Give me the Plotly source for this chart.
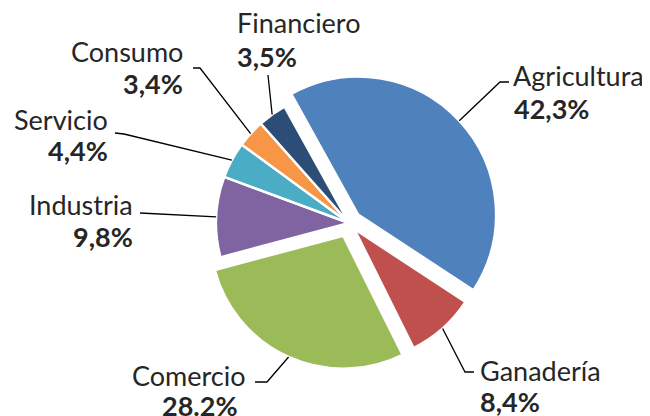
import math
import plotly.graph_objects as go

# ---- data ----
labels = ["Agricultura", "Ganadería", "Comercio", "Industria", "Servicio", "Consumo", "Financiero"]
values = [42.3, 8.4, 28.2, 9.8, 4.4, 3.4, 3.5]
pct_text = ["42,3%", "8,4%", "28.2%", "9,8%", "4,4%", "3,4%", "3,5%"]
colors = ["#4F81BD", "#C0504D", "#9BBB59", "#8064A2", "#4BACC6", "#F79646", "#2C4D75"]

# ---- styling / layout (viewport pixels) ----
W, H = 650, 416
OFF = 8                  # default page body margin
CX, CY = 349, 223        # pie centre
ROT = -29                # start angle of first slice (deg, clockwise from 12 o'clock)
# slice radius and explode fraction (the big slice is drawn slightly larger)
slice_radius = {"Agricultura": 138}
slice_pull = {"Agricultura": 0.09, "Ganadería": 0.06, "Comercio": 0.105}
R_MAIN = 133
BIG = "Agricultura"
FONT = "Lato"
FS = 27
TXT = "#262626"
CLEAR = "rgba(0,0,0,0)"

def px(x):
    return (x - OFF) / W

def py(y):
    return 1 - (y - OFF) / H

def pie_trace(show, radius):
    pulls = [slice_pull.get(l, 0) if show(l) else 0 for l in labels]
    half = radius * (1 + max(pulls))
    return go.Pie(
        labels=labels, values=values, sort=False, direction="clockwise",
        rotation=ROT, pull=pulls, textinfo="none", hoverinfo="label+percent",
        marker=dict(colors=[c if show(l) else CLEAR for l, c in zip(labels, colors)],
                    line=dict(color="white", width=[2.5 if show(l) else 0 for l in labels])),
        domain=dict(x=[px(CX - half), px(CX + half)], y=[py(CY + half), py(CY - half)]),
        showlegend=False,
    )

fig = go.Figure()
fig.add_trace(pie_trace(lambda l: l != BIG, R_MAIN))
fig.add_trace(pie_trace(lambda l: l == BIG, slice_radius[BIG]))

# label placement and leader elbow/end points
label_pos = {
    "Agricultura": dict(nx=511, ny=76, tx=512, ty=108, anchor="left", path=[(500, 82), (509, 82)]),
    "Ganadería": dict(nx=478, ny=370, tx=478, ty=401, anchor="left", path=[(465, 372), (474, 372)]),
    "Comercio": dict(nx=248, ny=375, tx=240, ty=405, anchor="right", path=[(267, 382), (255, 382)]),
    "Industria": dict(nx=135, ny=204, tx=135, ty=236, anchor="right", path=[(140, 213)]),
    "Servicio": dict(nx=110, ny=119, tx=110, ty=150, anchor="right", path=[(124, 134), (115, 133)]),
    "Consumo": dict(nx=185, ny=52, tx=185, ty=83, anchor="right", path=[(200, 68), (193, 68)]),
    "Financiero": dict(nx=235, ny=23, tx=235, ty=56, anchor="left", path=[(268, 75)]),
}

total = sum(values)
ang = ROT
annotations = []
shapes = []
for lab, v, pt in zip(labels, values, pct_text):
    span = 360 * v / total
    mid = math.radians(ang + span / 2)
    ang += span
    rr = slice_radius.get(lab, R_MAIN) * (1 + slice_pull.get(lab, 0))
    sx = CX + rr * math.sin(mid)
    sy = CY - rr * math.cos(mid)
    lp = label_pos[lab]
    pts = [(sx, sy)] + lp["path"]
    d = "M " + " L ".join(f"{px(x):.5f},{py(y):.5f}" for x, y in pts)
    shapes.append(dict(type="path", xref="paper", yref="paper", path=d,
                       line=dict(color="black", width=1.3)))
    annotations.append(dict(x=px(lp["nx"]), y=py(lp["ny"]), xref="paper", yref="paper",
                            text=lab, showarrow=False, xanchor=lp["anchor"], yanchor="middle",
                            font=dict(family=FONT, size=FS, color=TXT)))
    annotations.append(dict(x=px(lp["tx"]), y=py(lp["ty"]), xref="paper", yref="paper",
                            text=f"<b>{pt}</b>", showarrow=False, xanchor=lp["anchor"], yanchor="middle",
                            font=dict(family=FONT, size=FS, color=TXT)))

fig.update_layout(
    width=W, height=H, margin=dict(l=0, r=0, t=0, b=0),
    paper_bgcolor="white", plot_bgcolor="white",
    annotations=annotations, shapes=shapes,
)

fig.write_html("out.html")
